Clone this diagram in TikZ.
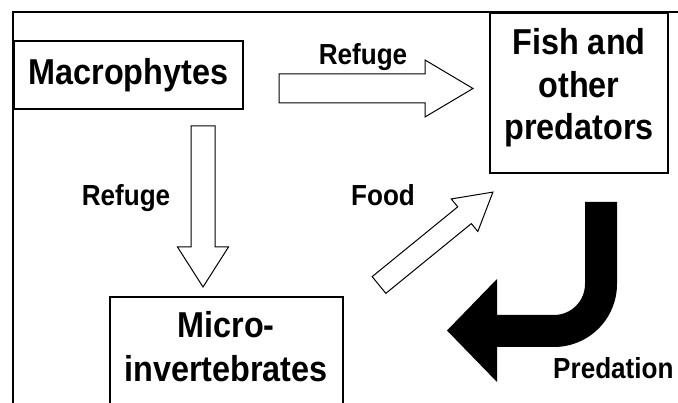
\documentclass[tikz,border=0pt]{standalone}
\usepackage{fontspec}
\setmainfont{Liberation Sans}[FakeStretch=0.9]
\usepackage{tikz}
\usetikzlibrary{calc}

\tikzset{
  pics/hollow/.style n args={4}{code={
    \draw[line width=1pt,fill=white] (0,-#2) -- (#1-#4,-#2) -- (#1-#4,-#3) -- (#1,0)
      -- (#1-#4,#3) -- (#1-#4,#2) -- (0,#2) -- cycle;
  }}
}

\begin{document}
\begin{tikzpicture}[x=1pt,y=1pt,
    box/.style={draw,line width=1.5pt,inner sep=0pt},
    big/.style={font=\fontsize{36}{42.5}\selectfont\bfseries},
    small/.style={font=\fontsize{29}{34}\selectfont\bfseries}]
      \clip (0,0) rectangle (678,403);
      \fill[white] (0,0) rectangle (678,403);
      \draw[line width=2pt] (12.5,-2) -- (12.5,391) -- (680,391);
      \node[box,big,minimum width=229,minimum height=68] (macro) at (128.5,328) {Macrophytes};
      \node[box,minimum width=178,minimum height=160] (fish) at (579,310) {};
      \node[big,align=center] (fishtext) at (579,315) {Fish and\\other\\predators};
      \node[box,minimum width=233,minimum height=112] (micro) at (226.5,50) {};
      \node[big,align=center,font=\fontsize{36}{44}\selectfont\bfseries] (microtext) at (226,56) {Micro-\\invertebrates};
      \coordinate (reftail) at (279,314.5);
      \coordinate (downtail) at (203,277);
      \coordinate (foodtail) at (379,118);
      \pic at (reftail) {hollow={194}{14.5}{28.5}{48}};
      \pic[rotate=-90] at (downtail) {hollow={161}{12}{25.5}{40}};
      \pic[rotate=39.2] at (foodtail) {hollow={147}{10.8}{21}{36.6}};
      \fill[black] (585,201) -- (617,201) -- (617,119) arc[start angle=0,end angle=-90,radius=63]
        -- (497,56) -- (497,21) -- (447,72.5) -- (497,124) -- (497,88) -- (554,88)
        arc[start angle=-90,end angle=0,radius=31] -- cycle;
      \node[small,anchor=base] (reflabel) at (363,338) {Refuge};
      \node[small,anchor=base] (downlabel) at (126,197) {Refuge};
      \node[small,anchor=base] (foodlabel) at (383,197) {Food};
      \node[small,anchor=base west,inner sep=0pt] (predlabel) at (553,24) {Predation};
\end{tikzpicture}
\end{document}
